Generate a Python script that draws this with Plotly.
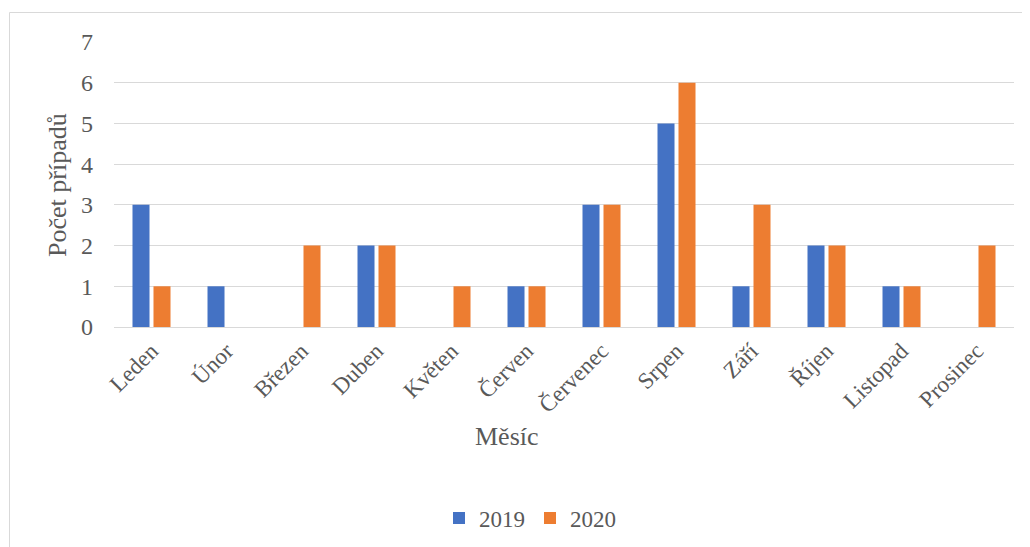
import plotly.graph_objects as go

months = ["Leden", "Únor", "Březen", "Duben", "Květen", "Červen",
          "Červenec", "Srpen", "Září", "Říjen", "Listopad", "Prosinec"]
cases_2019 = [3, 1, 0, 2, 0, 1, 3, 5, 1, 2, 1, 0]
cases_2020 = [1, 0, 2, 2, 1, 1, 3, 6, 3, 2, 1, 2]
y_ticks = [0, 1, 2, 3, 4, 5, 6, 7]

FONT = "Liberation Serif, Times New Roman, serif"
GRAY = "#595959"

# page body has an 8px margin; work in screen pixel coordinates
OFF = 8
SW, SH = 1030, 547
W, H = SW - OFF, SH - OFF
# plot area on screen: x 114..1014, y 42..327
L = 114 - OFF
T = 42 - OFF
R = SW - 1014
B = SH - 327
pw, ph = W - L - R, H - T - B

def px_x(x):
    return (x - OFF - L) / pw

def px_y(y):
    return (H - B - (y - OFF)) / ph

fig = go.Figure()
fig.add_trace(go.Bar(name="2019", x=months, y=cases_2019, marker_color="#4472C4",
                     marker_line_width=0))
fig.add_trace(go.Bar(name="2020", x=months, y=cases_2020, marker_color="#ED7D31",
                     marker_line_width=0))

fig.update_layout(
    width=W, height=H,
    margin=dict(l=L, r=R, t=T, b=B, autoexpand=False),
    paper_bgcolor="white", plot_bgcolor="white",
    barmode="group", bargap=0.44, bargroupgap=0.19,
    font=dict(family=FONT, color=GRAY, size=23),
    showlegend=True,
    legend=dict(orientation="h", x=px_x(530), y=px_y(518), xanchor="center",
                yanchor="middle", font=dict(size=23, family=FONT, color=GRAY),
                itemwidth=30, tracegroupgap=0),
    xaxis=dict(tickangle=-45, showgrid=False, showline=False, ticks="",
               ticklabelstandoff=5,
               tickfont=dict(size=23, family=FONT, color=GRAY)),
    yaxis=dict(range=[0, 7], tickvals=y_ticks, showgrid=True, gridcolor="#d9d9d9",
               gridwidth=1, zeroline=True, zerolinecolor="#d9d9d9", zerolinewidth=1,
               showline=False, ticks="", ticklen=0, ticklabelstandoff=20,
               tickfont=dict(size=24, family=FONT, color=GRAY)),
    annotations=[
        dict(text="Měsíc", xref="paper", yref="paper", x=px_x(507), y=px_y(437),
             showarrow=False, font=dict(size=26, family=FONT, color=GRAY),
             xanchor="center", yanchor="middle"),
        dict(text="Počet případů", xref="paper", yref="paper", x=px_x(57), y=px_y(185),
             showarrow=False, textangle=-90, font=dict(size=26, family=FONT, color=GRAY),
             xanchor="center", yanchor="middle"),
    ],
    shapes=[
        dict(type="rect", xref="paper", yref="paper",
             x0=px_x(9.5), x1=px_x(1060), y0=px_y(580), y1=px_y(12.5),
             line=dict(color="#d9d9d9", width=1), fillcolor="rgba(0,0,0,0)", layer="below"),
    ],
)

fig.write_html("out.html")
